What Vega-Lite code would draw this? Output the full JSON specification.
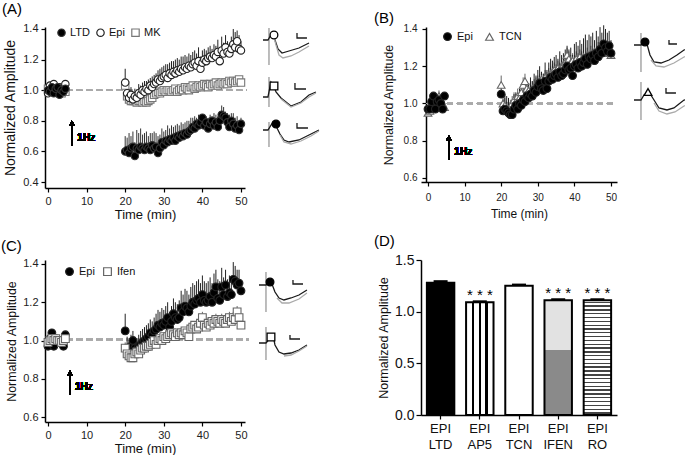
{
"$schema":"https://vega.github.io/schema/vega-lite/v6.json",
"background":"white",
"padding":{"left":1,"top":1,"right":0,"bottom":0},
"config":{
 "view":{"stroke":null},
 "font":"Liberation Sans",
 "axis":{"grid":false,"domainColor":"#000","domainWidth":1.5,"tickColor":"#000","tickWidth":1.2,"tickSize":4,"labelColor":"#222","titleColor":"#111","titleFontWeight":"normal","labelFont":"Liberation Sans","titleFont":"Liberation Sans"},
 "legend":{"labelFont":"Liberation Sans","labelColor":"#111"},
 "title":{"font":"Liberation Sans","fontWeight":"normal","fontSize":15,"anchor":"start","frame":"group","color":"#000"}
},
"datasets":{
"dA":[
{"s":"MK","t":0,"y":1.01,"h":1.02},{"s":"MK","t":0.5,"y":0.99,"h":1.0},{"s":"MK","t":1,"y":1.0,"h":1.01},{"s":"MK","t":1.5,"y":1.01,"h":1.02},{"s":"MK","t":2,"y":0.99,"h":1.0},{"s":"MK","t":2.5,"y":1.0,"h":1.01},{"s":"MK","t":3,"y":1.01,"h":1.02},{"s":"MK","t":3.5,"y":0.98,"h":0.99},{"s":"MK","t":4,"y":1.0,"h":1.01},{"s":"MK","t":4.5,"y":0.99,"h":1.0},
{"s":"MK","t":20,"y":1.03,"h":1.06},{"s":"MK","t":20.5,"y":0.96,"h":0.99},{"s":"MK","t":21,"y":0.94,"h":0.96},{"s":"MK","t":21.5,"y":0.93,"h":0.95},{"s":"MK","t":22,"y":0.93,"h":0.95},{"s":"MK","t":22.5,"y":0.93,"h":0.94},{"s":"MK","t":23,"y":0.92,"h":0.94},{"s":"MK","t":23.5,"y":0.93,"h":0.95},{"s":"MK","t":24,"y":0.93,"h":0.94},{"s":"MK","t":24.5,"y":0.92,"h":0.94},{"s":"MK","t":25,"y":0.93,"h":0.95},{"s":"MK","t":25.5,"y":0.92,"h":0.94},{"s":"MK","t":26,"y":0.93,"h":0.95},{"s":"MK","t":26.5,"y":0.94,"h":0.96},{"s":"MK","t":27,"y":0.95,"h":0.97},{"s":"MK","t":27.5,"y":0.97,"h":0.99},{"s":"MK","t":28,"y":0.98,"h":1.0},{"s":"MK","t":28.5,"y":0.99,"h":1.01},{"s":"MK","t":29,"y":0.98,"h":1.0},{"s":"MK","t":29.5,"y":0.99,"h":1.01},{"s":"MK","t":30,"y":1.0,"h":1.02},{"s":"MK","t":30.5,"y":0.99,"h":1.01},{"s":"MK","t":31,"y":1.0,"h":1.02},{"s":"MK","t":31.5,"y":1.0,"h":1.02},{"s":"MK","t":32,"y":0.99,"h":1.01},{"s":"MK","t":32.5,"y":1.0,"h":1.02},{"s":"MK","t":33,"y":1.01,"h":1.03},{"s":"MK","t":33.5,"y":0.99,"h":1.01},{"s":"MK","t":34,"y":1.0,"h":1.02},{"s":"MK","t":34.5,"y":1.01,"h":1.03},{"s":"MK","t":35,"y":1.0,"h":1.02},{"s":"MK","t":35.5,"y":1.02,"h":1.04},{"s":"MK","t":36,"y":1.01,"h":1.03},{"s":"MK","t":36.5,"y":1.0,"h":1.02},{"s":"MK","t":37,"y":1.02,"h":1.04},{"s":"MK","t":37.5,"y":1.03,"h":1.05},{"s":"MK","t":38,"y":1.01,"h":1.03},{"s":"MK","t":38.5,"y":1.02,"h":1.04},{"s":"MK","t":39,"y":1.03,"h":1.05},{"s":"MK","t":39.5,"y":1.02,"h":1.04},{"s":"MK","t":40,"y":1.03,"h":1.05},{"s":"MK","t":40.5,"y":1.04,"h":1.06},{"s":"MK","t":41,"y":1.03,"h":1.05},{"s":"MK","t":41.5,"y":1.02,"h":1.04},{"s":"MK","t":42,"y":1.04,"h":1.06},{"s":"MK","t":42.5,"y":1.03,"h":1.05},{"s":"MK","t":43,"y":1.04,"h":1.06},{"s":"MK","t":43.5,"y":1.05,"h":1.07},{"s":"MK","t":44,"y":1.03,"h":1.05},{"s":"MK","t":44.5,"y":1.04,"h":1.06},{"s":"MK","t":45,"y":1.05,"h":1.07},{"s":"MK","t":45.5,"y":1.04,"h":1.06},{"s":"MK","t":46,"y":1.05,"h":1.07},{"s":"MK","t":46.5,"y":1.04,"h":1.06},{"s":"MK","t":47,"y":1.06,"h":1.08},{"s":"MK","t":47.5,"y":1.05,"h":1.07},{"s":"MK","t":48,"y":1.06,"h":1.08},{"s":"MK","t":48.5,"y":1.05,"h":1.07},{"s":"MK","t":49,"y":1.06,"h":1.08},{"s":"MK","t":49.5,"y":1.07,"h":1.09},{"s":"MK","t":50,"y":1.05,"h":1.07},
{"s":"Epi","t":0,"y":0.98,"h":1.0},{"s":"Epi","t":0.5,"y":1.03,"h":1.05},{"s":"Epi","t":1,"y":0.99,"h":1.01},{"s":"Epi","t":1.5,"y":1.04,"h":1.05},{"s":"Epi","t":2,"y":1.0,"h":1.02},{"s":"Epi","t":2.5,"y":0.98,"h":1.0},{"s":"Epi","t":3,"y":1.02,"h":1.03},{"s":"Epi","t":3.5,"y":0.99,"h":1.01},{"s":"Epi","t":4,"y":1.01,"h":1.02},{"s":"Epi","t":4.5,"y":1.04,"h":1.05},
{"s":"Epi","t":20,"y":1.05,"h":1.14},{"s":"Epi","t":20.5,"y":0.98,"h":1.03},{"s":"Epi","t":21,"y":0.95,"h":1.01},{"s":"Epi","t":21.5,"y":0.97,"h":1.02},{"s":"Epi","t":22,"y":0.94,"h":0.98},{"s":"Epi","t":22.5,"y":0.96,"h":1.01},{"s":"Epi","t":23,"y":0.95,"h":1.0},{"s":"Epi","t":23.5,"y":0.98,"h":1.04},{"s":"Epi","t":24,"y":0.97,"h":1.03},{"s":"Epi","t":24.5,"y":1.0,"h":1.05},{"s":"Epi","t":25,"y":0.99,"h":1.06},{"s":"Epi","t":25.5,"y":1.01,"h":1.06},{"s":"Epi","t":26,"y":1.0,"h":1.07},{"s":"Epi","t":26.5,"y":1.03,"h":1.08},{"s":"Epi","t":27,"y":1.02,"h":1.09},{"s":"Epi","t":27.5,"y":1.04,"h":1.1},{"s":"Epi","t":28,"y":1.05,"h":1.11},{"s":"Epi","t":28.5,"y":1.07,"h":1.13},{"s":"Epi","t":29,"y":1.06,"h":1.14},{"s":"Epi","t":29.5,"y":1.08,"h":1.15},{"s":"Epi","t":30,"y":1.09,"h":1.16},{"s":"Epi","t":30.5,"y":1.1,"h":1.17},{"s":"Epi","t":31,"y":1.08,"h":1.17},{"s":"Epi","t":31.5,"y":1.11,"h":1.18},{"s":"Epi","t":32,"y":1.1,"h":1.19},{"s":"Epi","t":32.5,"y":1.12,"h":1.19},{"s":"Epi","t":33,"y":1.11,"h":1.2},{"s":"Epi","t":33.5,"y":1.13,"h":1.21},{"s":"Epi","t":34,"y":1.12,"h":1.2},{"s":"Epi","t":34.5,"y":1.14,"h":1.22},{"s":"Epi","t":35,"y":1.13,"h":1.22},{"s":"Epi","t":35.5,"y":1.15,"h":1.23},{"s":"Epi","t":36,"y":1.14,"h":1.22},{"s":"Epi","t":36.5,"y":1.16,"h":1.24},{"s":"Epi","t":37,"y":1.15,"h":1.23},{"s":"Epi","t":37.5,"y":1.17,"h":1.25},{"s":"Epi","t":38,"y":1.18,"h":1.26},{"s":"Epi","t":38.5,"y":1.16,"h":1.24},{"s":"Epi","t":39,"y":1.19,"h":1.28},{"s":"Epi","t":39.5,"y":1.14,"h":1.22},{"s":"Epi","t":40,"y":1.18,"h":1.26},{"s":"Epi","t":40.5,"y":1.2,"h":1.27},{"s":"Epi","t":41,"y":1.19,"h":1.26},{"s":"Epi","t":41.5,"y":1.21,"h":1.28},{"s":"Epi","t":42,"y":1.22,"h":1.29},{"s":"Epi","t":42.5,"y":1.21,"h":1.27},{"s":"Epi","t":43,"y":1.23,"h":1.3},{"s":"Epi","t":43.5,"y":1.22,"h":1.29},{"s":"Epi","t":44,"y":1.25,"h":1.33},{"s":"Epi","t":44.5,"y":1.19,"h":1.26},{"s":"Epi","t":45,"y":1.26,"h":1.35},{"s":"Epi","t":45.5,"y":1.24,"h":1.31},{"s":"Epi","t":46,"y":1.28,"h":1.36},{"s":"Epi","t":46.5,"y":1.25,"h":1.32},{"s":"Epi","t":47,"y":1.24,"h":1.31},{"s":"Epi","t":47.5,"y":1.27,"h":1.35},{"s":"Epi","t":48,"y":1.3,"h":1.4},{"s":"Epi","t":48.5,"y":1.28,"h":1.38},{"s":"Epi","t":49,"y":1.32,"h":1.39},{"s":"Epi","t":49.5,"y":1.27,"h":1.36},{"s":"Epi","t":50,"y":1.26,"h":1.32},
{"s":"LTD","t":0,"y":1.0,"h":1.01},{"s":"LTD","t":0.5,"y":0.99,"h":1.01},{"s":"LTD","t":1,"y":1.02,"h":1.03},{"s":"LTD","t":1.5,"y":0.98,"h":1.0},{"s":"LTD","t":2,"y":1.01,"h":1.03},{"s":"LTD","t":2.5,"y":1.02,"h":1.03},{"s":"LTD","t":3,"y":0.97,"h":0.99},{"s":"LTD","t":3.5,"y":1.0,"h":1.02},{"s":"LTD","t":4,"y":0.99,"h":1.01},{"s":"LTD","t":4.5,"y":1.01,"h":1.02},
{"s":"LTD","t":20,"y":0.6,"h":0.7},{"s":"LTD","t":20.5,"y":0.61,"h":0.69},{"s":"LTD","t":21,"y":0.59,"h":0.72},{"s":"LTD","t":21.5,"y":0.62,"h":0.7},{"s":"LTD","t":22,"y":0.63,"h":0.73},{"s":"LTD","t":22.5,"y":0.57,"h":0.66},{"s":"LTD","t":23,"y":0.62,"h":0.74},{"s":"LTD","t":23.5,"y":0.61,"h":0.72},{"s":"LTD","t":24,"y":0.63,"h":0.75},{"s":"LTD","t":24.5,"y":0.62,"h":0.71},{"s":"LTD","t":25,"y":0.61,"h":0.72},{"s":"LTD","t":25.5,"y":0.63,"h":0.73},{"s":"LTD","t":26,"y":0.62,"h":0.7},{"s":"LTD","t":26.5,"y":0.61,"h":0.72},{"s":"LTD","t":27,"y":0.64,"h":0.72},{"s":"LTD","t":27.5,"y":0.62,"h":0.73},{"s":"LTD","t":28,"y":0.63,"h":0.72},{"s":"LTD","t":28.5,"y":0.59,"h":0.7},{"s":"LTD","t":29,"y":0.62,"h":0.71},{"s":"LTD","t":29.5,"y":0.66,"h":0.75},{"s":"LTD","t":30,"y":0.64,"h":0.73},{"s":"LTD","t":30.5,"y":0.67,"h":0.74},{"s":"LTD","t":31,"y":0.66,"h":0.77},{"s":"LTD","t":31.5,"y":0.68,"h":0.75},{"s":"LTD","t":32,"y":0.67,"h":0.77},{"s":"LTD","t":32.5,"y":0.69,"h":0.76},{"s":"LTD","t":33,"y":0.67,"h":0.77},{"s":"LTD","t":33.5,"y":0.7,"h":0.78},{"s":"LTD","t":34,"y":0.69,"h":0.77},{"s":"LTD","t":34.5,"y":0.71,"h":0.79},{"s":"LTD","t":35,"y":0.7,"h":0.78},{"s":"LTD","t":35.5,"y":0.72,"h":0.79},{"s":"LTD","t":36,"y":0.71,"h":0.8},{"s":"LTD","t":36.5,"y":0.73,"h":0.8},{"s":"LTD","t":37,"y":0.74,"h":0.82},{"s":"LTD","t":37.5,"y":0.76,"h":0.82},{"s":"LTD","t":38,"y":0.75,"h":0.83},{"s":"LTD","t":38.5,"y":0.78,"h":0.82},{"s":"LTD","t":39,"y":0.77,"h":0.84},{"s":"LTD","t":39.5,"y":0.79,"h":0.81},{"s":"LTD","t":40,"y":0.82,"h":0.84},{"s":"LTD","t":40.5,"y":0.77,"h":0.83},{"s":"LTD","t":41,"y":0.79,"h":0.83},{"s":"LTD","t":41.5,"y":0.75,"h":0.82},{"s":"LTD","t":42,"y":0.78,"h":0.84},{"s":"LTD","t":42.5,"y":0.8,"h":0.83},{"s":"LTD","t":43,"y":0.77,"h":0.85},{"s":"LTD","t":43.5,"y":0.79,"h":0.84},{"s":"LTD","t":44,"y":0.76,"h":0.83},{"s":"LTD","t":44.5,"y":0.8,"h":0.86},{"s":"LTD","t":45,"y":0.84,"h":0.9},{"s":"LTD","t":45.5,"y":0.83,"h":0.89},{"s":"LTD","t":46,"y":0.82,"h":0.86},{"s":"LTD","t":46.5,"y":0.79,"h":0.85},{"s":"LTD","t":47,"y":0.76,"h":0.84},{"s":"LTD","t":47.5,"y":0.8,"h":0.85},{"s":"LTD","t":48,"y":0.78,"h":0.85},{"s":"LTD","t":48.5,"y":0.75,"h":0.82},{"s":"LTD","t":49,"y":0.77,"h":0.83},{"s":"LTD","t":49.5,"y":0.74,"h":0.8},{"s":"LTD","t":50,"y":0.78,"h":0.82}
],
"dB":[
{"s":"TCN","t":0,"y":0.95,"h":0.96},{"s":"TCN","t":0.5,"y":0.96,"h":0.97},{"s":"TCN","t":1,"y":0.99,"h":1.01},{"s":"TCN","t":1.5,"y":1.0,"h":1.02},{"s":"TCN","t":2,"y":1.01,"h":1.03},{"s":"TCN","t":2.5,"y":1.03,"h":1.05},{"s":"TCN","t":3,"y":1.04,"h":1.07},{"s":"TCN","t":3.5,"y":1.02,"h":1.04},{"s":"TCN","t":4,"y":1.0,"h":1.02},{"s":"TCN","t":4.5,"y":0.98,"h":1.0},
{"s":"TCN","t":20,"y":1.1,"h":1.15},{"s":"TCN","t":20.5,"y":1.0,"h":1.04},{"s":"TCN","t":21,"y":0.99,"h":1.03},{"s":"TCN","t":21.5,"y":0.97,"h":1.01},{"s":"TCN","t":22,"y":0.96,"h":1.0},{"s":"TCN","t":22.5,"y":0.98,"h":1.02},{"s":"TCN","t":23,"y":1.0,"h":1.04},{"s":"TCN","t":23.5,"y":1.02,"h":1.06},{"s":"TCN","t":24,"y":1.01,"h":1.05},{"s":"TCN","t":24.5,"y":1.04,"h":1.08},{"s":"TCN","t":25,"y":1.03,"h":1.07},{"s":"TCN","t":25.5,"y":1.06,"h":1.1},{"s":"TCN","t":26,"y":1.1,"h":1.14},{"s":"TCN","t":26.5,"y":1.12,"h":1.16},{"s":"TCN","t":27,"y":1.08,"h":1.12},{"s":"TCN","t":27.5,"y":1.07,"h":1.11},{"s":"TCN","t":28,"y":1.06,"h":1.1},{"s":"TCN","t":28.5,"y":1.08,"h":1.12},{"s":"TCN","t":29,"y":1.09,"h":1.13},{"s":"TCN","t":29.5,"y":1.1,"h":1.14},{"s":"TCN","t":30,"y":1.11,"h":1.15},{"s":"TCN","t":30.5,"y":1.12,"h":1.16},{"s":"TCN","t":31,"y":1.13,"h":1.17},{"s":"TCN","t":31.5,"y":1.12,"h":1.16},{"s":"TCN","t":32,"y":1.14,"h":1.18},{"s":"TCN","t":32.5,"y":1.13,"h":1.17},{"s":"TCN","t":33,"y":1.15,"h":1.19},{"s":"TCN","t":33.5,"y":1.16,"h":1.2},{"s":"TCN","t":34,"y":1.17,"h":1.21},{"s":"TCN","t":34.5,"y":1.18,"h":1.22},{"s":"TCN","t":35,"y":1.17,"h":1.21},{"s":"TCN","t":35.5,"y":1.19,"h":1.23},{"s":"TCN","t":36,"y":1.18,"h":1.22},{"s":"TCN","t":36.5,"y":1.2,"h":1.24},{"s":"TCN","t":37,"y":1.21,"h":1.25},{"s":"TCN","t":37.5,"y":1.22,"h":1.26},{"s":"TCN","t":38,"y":1.26,"h":1.3},{"s":"TCN","t":38.5,"y":1.24,"h":1.28},{"s":"TCN","t":39,"y":1.22,"h":1.26},{"s":"TCN","t":39.5,"y":1.23,"h":1.27},{"s":"TCN","t":40,"y":1.22,"h":1.26},{"s":"TCN","t":40.5,"y":1.24,"h":1.28},{"s":"TCN","t":41,"y":1.23,"h":1.27},{"s":"TCN","t":41.5,"y":1.25,"h":1.29},{"s":"TCN","t":42,"y":1.24,"h":1.28},{"s":"TCN","t":42.5,"y":1.25,"h":1.29},{"s":"TCN","t":43,"y":1.23,"h":1.27},{"s":"TCN","t":43.5,"y":1.26,"h":1.3},{"s":"TCN","t":44,"y":1.24,"h":1.28},{"s":"TCN","t":44.5,"y":1.27,"h":1.31},{"s":"TCN","t":45,"y":1.25,"h":1.29},{"s":"TCN","t":45.5,"y":1.28,"h":1.32},{"s":"TCN","t":46,"y":1.26,"h":1.3},{"s":"TCN","t":46.5,"y":1.29,"h":1.33},{"s":"TCN","t":47,"y":1.27,"h":1.31},{"s":"TCN","t":47.5,"y":1.3,"h":1.34},{"s":"TCN","t":48,"y":1.28,"h":1.32},{"s":"TCN","t":48.5,"y":1.27,"h":1.31},{"s":"TCN","t":49,"y":1.29,"h":1.33},{"s":"TCN","t":49.5,"y":1.28,"h":1.32},{"s":"TCN","t":50,"y":1.26,"h":1.3},
{"s":"Epi","t":0,"y":0.97,"h":0.98},{"s":"Epi","t":0.5,"y":0.97,"h":0.99},{"s":"Epi","t":1,"y":1.01,"h":1.03},{"s":"Epi","t":1.5,"y":1.04,"h":1.06},{"s":"Epi","t":2,"y":0.97,"h":0.99},{"s":"Epi","t":2.5,"y":1.01,"h":1.03},{"s":"Epi","t":3,"y":1.02,"h":1.05},{"s":"Epi","t":3.5,"y":1.0,"h":1.03},{"s":"Epi","t":4,"y":0.97,"h":0.99},{"s":"Epi","t":4.5,"y":1.04,"h":1.06},
{"s":"Epi","t":20,"y":1.05,"h":1.1},{"s":"Epi","t":20.5,"y":0.96,"h":1.02},{"s":"Epi","t":21,"y":0.97,"h":1.05},{"s":"Epi","t":21.5,"y":0.96,"h":1.04},{"s":"Epi","t":22,"y":0.95,"h":1.03},{"s":"Epi","t":22.5,"y":0.94,"h":1.0},{"s":"Epi","t":23,"y":0.94,"h":1.01},{"s":"Epi","t":23.5,"y":0.97,"h":1.05},{"s":"Epi","t":24,"y":0.99,"h":1.06},{"s":"Epi","t":24.5,"y":0.97,"h":1.05},{"s":"Epi","t":25,"y":1.0,"h":1.08},{"s":"Epi","t":25.5,"y":0.99,"h":1.07},{"s":"Epi","t":26,"y":1.02,"h":1.1},{"s":"Epi","t":26.5,"y":1.01,"h":1.09},{"s":"Epi","t":27,"y":1.04,"h":1.12},{"s":"Epi","t":27.5,"y":1.03,"h":1.11},{"s":"Epi","t":28,"y":1.05,"h":1.14},{"s":"Epi","t":28.5,"y":1.04,"h":1.12},{"s":"Epi","t":29,"y":1.07,"h":1.16},{"s":"Epi","t":29.5,"y":1.06,"h":1.15},{"s":"Epi","t":30,"y":1.09,"h":1.18},{"s":"Epi","t":30.5,"y":1.11,"h":1.2},{"s":"Epi","t":31,"y":1.08,"h":1.17},{"s":"Epi","t":31.5,"y":1.07,"h":1.16},{"s":"Epi","t":32,"y":1.12,"h":1.22},{"s":"Epi","t":32.5,"y":1.08,"h":1.18},{"s":"Epi","t":33,"y":1.12,"h":1.22},{"s":"Epi","t":33.5,"y":1.14,"h":1.24},{"s":"Epi","t":34,"y":1.13,"h":1.23},{"s":"Epi","t":34.5,"y":1.15,"h":1.25},{"s":"Epi","t":35,"y":1.16,"h":1.26},{"s":"Epi","t":35.5,"y":1.14,"h":1.24},{"s":"Epi","t":36,"y":1.17,"h":1.28},{"s":"Epi","t":36.5,"y":1.15,"h":1.26},{"s":"Epi","t":37,"y":1.16,"h":1.27},{"s":"Epi","t":37.5,"y":1.18,"h":1.29},{"s":"Epi","t":38,"y":1.2,"h":1.31},{"s":"Epi","t":38.5,"y":1.18,"h":1.29},{"s":"Epi","t":39,"y":1.19,"h":1.3},{"s":"Epi","t":39.5,"y":1.15,"h":1.26},{"s":"Epi","t":40,"y":1.2,"h":1.32},{"s":"Epi","t":40.5,"y":1.21,"h":1.33},{"s":"Epi","t":41,"y":1.19,"h":1.31},{"s":"Epi","t":41.5,"y":1.22,"h":1.34},{"s":"Epi","t":42,"y":1.2,"h":1.32},{"s":"Epi","t":42.5,"y":1.22,"h":1.35},{"s":"Epi","t":43,"y":1.24,"h":1.37},{"s":"Epi","t":43.5,"y":1.21,"h":1.34},{"s":"Epi","t":44,"y":1.25,"h":1.37},{"s":"Epi","t":44.5,"y":1.24,"h":1.36},{"s":"Epi","t":45,"y":1.26,"h":1.38},{"s":"Epi","t":45.5,"y":1.23,"h":1.34},{"s":"Epi","t":46,"y":1.27,"h":1.39},{"s":"Epi","t":46.5,"y":1.25,"h":1.36},{"s":"Epi","t":47,"y":1.29,"h":1.41},{"s":"Epi","t":47.5,"y":1.27,"h":1.38},{"s":"Epi","t":48,"y":1.32,"h":1.42},{"s":"Epi","t":48.5,"y":1.3,"h":1.4},{"s":"Epi","t":49,"y":1.28,"h":1.38},{"s":"Epi","t":49.5,"y":1.31,"h":1.39},{"s":"Epi","t":50,"y":1.27,"h":1.34}
],
"dC":[
{"s":"Epi","t":0,"y":0.97,"h":0.98},{"s":"Epi","t":0.5,"y":1.01,"h":1.02},{"s":"Epi","t":1,"y":1.04,"h":1.05},{"s":"Epi","t":1.5,"y":0.97,"h":0.99},{"s":"Epi","t":2,"y":1.01,"h":1.02},{"s":"Epi","t":2.5,"y":1.0,"h":1.01},{"s":"Epi","t":3,"y":0.99,"h":1.01},{"s":"Epi","t":3.5,"y":1.0,"h":1.01},{"s":"Epi","t":4,"y":0.97,"h":0.98},{"s":"Epi","t":4.5,"y":1.03,"h":1.04},
{"s":"Epi","t":20,"y":1.05,"h":1.14},{"s":"Epi","t":20.5,"y":0.96,"h":1.02},{"s":"Epi","t":21,"y":0.94,"h":1.0},{"s":"Epi","t":21.5,"y":0.97,"h":1.03},{"s":"Epi","t":22,"y":1.0,"h":1.05},{"s":"Epi","t":22.5,"y":0.96,"h":1.02},{"s":"Epi","t":23,"y":0.95,"h":1.01},{"s":"Epi","t":23.5,"y":0.97,"h":1.03},{"s":"Epi","t":24,"y":0.98,"h":1.05},{"s":"Epi","t":24.5,"y":0.99,"h":1.06},{"s":"Epi","t":25,"y":1.0,"h":1.07},{"s":"Epi","t":25.5,"y":1.01,"h":1.08},{"s":"Epi","t":26,"y":1.02,"h":1.09},{"s":"Epi","t":26.5,"y":1.04,"h":1.11},{"s":"Epi","t":27,"y":1.03,"h":1.1},{"s":"Epi","t":27.5,"y":1.05,"h":1.12},{"s":"Epi","t":28,"y":1.06,"h":1.14},{"s":"Epi","t":28.5,"y":1.08,"h":1.16},{"s":"Epi","t":29,"y":1.07,"h":1.15},{"s":"Epi","t":29.5,"y":1.09,"h":1.17},{"s":"Epi","t":30,"y":1.08,"h":1.16},{"s":"Epi","t":30.5,"y":1.1,"h":1.18},{"s":"Epi","t":31,"y":1.12,"h":1.2},{"s":"Epi","t":31.5,"y":1.07,"h":1.15},{"s":"Epi","t":32,"y":1.1,"h":1.18},{"s":"Epi","t":32.5,"y":1.14,"h":1.22},{"s":"Epi","t":33,"y":1.12,"h":1.2},{"s":"Epi","t":33.5,"y":1.11,"h":1.19},{"s":"Epi","t":34,"y":1.12,"h":1.21},{"s":"Epi","t":34.5,"y":1.17,"h":1.26},{"s":"Epi","t":35,"y":1.15,"h":1.24},{"s":"Epi","t":35.5,"y":1.18,"h":1.27},{"s":"Epi","t":36,"y":1.17,"h":1.26},{"s":"Epi","t":36.5,"y":1.15,"h":1.24},{"s":"Epi","t":37,"y":1.18,"h":1.28},{"s":"Epi","t":37.5,"y":1.2,"h":1.3},{"s":"Epi","t":38,"y":1.19,"h":1.29},{"s":"Epi","t":38.5,"y":1.21,"h":1.31},{"s":"Epi","t":39,"y":1.22,"h":1.32},{"s":"Epi","t":39.5,"y":1.2,"h":1.3},{"s":"Epi","t":40,"y":1.24,"h":1.34},{"s":"Epi","t":40.5,"y":1.21,"h":1.31},{"s":"Epi","t":41,"y":1.2,"h":1.3},{"s":"Epi","t":41.5,"y":1.21,"h":1.31},{"s":"Epi","t":42,"y":1.23,"h":1.33},{"s":"Epi","t":42.5,"y":1.2,"h":1.3},{"s":"Epi","t":43,"y":1.25,"h":1.35},{"s":"Epi","t":43.5,"y":1.28,"h":1.37},{"s":"Epi","t":44,"y":1.22,"h":1.32},{"s":"Epi","t":44.5,"y":1.21,"h":1.31},{"s":"Epi","t":45,"y":1.28,"h":1.38},{"s":"Epi","t":45.5,"y":1.24,"h":1.33},{"s":"Epi","t":46,"y":1.29,"h":1.37},{"s":"Epi","t":46.5,"y":1.23,"h":1.32},{"s":"Epi","t":47,"y":1.25,"h":1.34},{"s":"Epi","t":47.5,"y":1.24,"h":1.33},{"s":"Epi","t":48,"y":1.32,"h":1.41},{"s":"Epi","t":48.5,"y":1.31,"h":1.39},{"s":"Epi","t":49,"y":1.29,"h":1.37},{"s":"Epi","t":49.5,"y":1.3,"h":1.37},{"s":"Epi","t":50,"y":1.26,"h":1.31},
{"s":"Ifen","t":0,"y":0.99,"h":1.0},{"s":"Ifen","t":0.5,"y":1.0,"h":1.01},{"s":"Ifen","t":1,"y":1.01,"h":1.02},{"s":"Ifen","t":1.5,"y":1.0,"h":1.01},{"s":"Ifen","t":2,"y":1.01,"h":1.02},{"s":"Ifen","t":2.5,"y":1.0,"h":1.01},{"s":"Ifen","t":3,"y":1.0,"h":1.01},{"s":"Ifen","t":3.5,"y":0.99,"h":1.0},{"s":"Ifen","t":4,"y":1.0,"h":1.01},{"s":"Ifen","t":4.5,"y":1.01,"h":1.02},
{"s":"Ifen","t":20,"y":0.96,"h":0.99},{"s":"Ifen","t":20.5,"y":0.93,"h":0.96},{"s":"Ifen","t":21,"y":0.92,"h":0.95},{"s":"Ifen","t":21.5,"y":0.91,"h":0.93},{"s":"Ifen","t":22,"y":0.91,"h":0.93},{"s":"Ifen","t":22.5,"y":0.93,"h":0.95},{"s":"Ifen","t":23,"y":0.94,"h":0.96},{"s":"Ifen","t":23.5,"y":0.93,"h":0.95},{"s":"Ifen","t":24,"y":0.95,"h":0.97},{"s":"Ifen","t":24.5,"y":0.96,"h":0.98},{"s":"Ifen","t":25,"y":0.96,"h":0.98},{"s":"Ifen","t":25.5,"y":0.97,"h":0.99},{"s":"Ifen","t":26,"y":0.97,"h":0.99},{"s":"Ifen","t":26.5,"y":0.98,"h":1.0},{"s":"Ifen","t":27,"y":0.99,"h":1.01},{"s":"Ifen","t":27.5,"y":1.0,"h":1.02},{"s":"Ifen","t":28,"y":0.98,"h":1.0},{"s":"Ifen","t":28.5,"y":1.0,"h":1.02},{"s":"Ifen","t":29,"y":1.01,"h":1.03},{"s":"Ifen","t":29.5,"y":1.0,"h":1.02},{"s":"Ifen","t":30,"y":1.02,"h":1.04},{"s":"Ifen","t":30.5,"y":1.01,"h":1.03},{"s":"Ifen","t":31,"y":1.02,"h":1.04},{"s":"Ifen","t":31.5,"y":1.03,"h":1.05},{"s":"Ifen","t":32,"y":1.04,"h":1.06},{"s":"Ifen","t":32.5,"y":1.03,"h":1.05},{"s":"Ifen","t":33,"y":1.02,"h":1.04},{"s":"Ifen","t":33.5,"y":1.04,"h":1.06},{"s":"Ifen","t":34,"y":1.03,"h":1.05},{"s":"Ifen","t":34.5,"y":1.04,"h":1.06},{"s":"Ifen","t":35,"y":1.03,"h":1.05},{"s":"Ifen","t":35.5,"y":1.05,"h":1.07},{"s":"Ifen","t":36,"y":1.04,"h":1.06},{"s":"Ifen","t":36.5,"y":1.02,"h":1.04},{"s":"Ifen","t":37,"y":1.06,"h":1.08},{"s":"Ifen","t":37.5,"y":1.07,"h":1.09},{"s":"Ifen","t":38,"y":1.08,"h":1.1},{"s":"Ifen","t":38.5,"y":1.06,"h":1.09},{"s":"Ifen","t":39,"y":1.07,"h":1.1},{"s":"Ifen","t":39.5,"y":1.09,"h":1.12},{"s":"Ifen","t":40,"y":1.12,"h":1.15},{"s":"Ifen","t":40.5,"y":1.08,"h":1.11},{"s":"Ifen","t":41,"y":1.07,"h":1.1},{"s":"Ifen","t":41.5,"y":1.09,"h":1.12},{"s":"Ifen","t":42,"y":1.08,"h":1.11},{"s":"Ifen","t":42.5,"y":1.1,"h":1.13},{"s":"Ifen","t":43,"y":1.09,"h":1.12},{"s":"Ifen","t":43.5,"y":1.11,"h":1.14},{"s":"Ifen","t":44,"y":1.1,"h":1.13},{"s":"Ifen","t":44.5,"y":1.09,"h":1.12},{"s":"Ifen","t":45,"y":1.11,"h":1.14},{"s":"Ifen","t":45.5,"y":1.1,"h":1.13},{"s":"Ifen","t":46,"y":1.09,"h":1.12},{"s":"Ifen","t":46.5,"y":1.11,"h":1.14},{"s":"Ifen","t":47,"y":1.12,"h":1.15},{"s":"Ifen","t":47.5,"y":1.1,"h":1.13},{"s":"Ifen","t":48,"y":1.12,"h":1.15},{"s":"Ifen","t":48.5,"y":1.11,"h":1.14},{"s":"Ifen","t":49,"y":1.15,"h":1.18},{"s":"Ifen","t":49.5,"y":1.12,"h":1.15},{"s":"Ifen","t":50,"y":1.08,"h":1.11}
],
"dD":[
{"c":"EPI LTD","v":1.28,"h":1.295,"sig":""},
{"c":"EPI AP5","v":1.09,"h":1.1,"sig":"* * *"},
{"c":"EPI TCN","v":1.25,"h":1.262,"sig":""},
{"c":"EPI IFEN","v":1.11,"h":1.12,"sig":"* * *"},
{"c":"EPI RO","v":1.11,"h":1.12,"sig":"* * *"}
],
"tA":[
{"tr":"Epi","k":"art","i":0,"t":0,"v":44},{"tr":"Epi","k":"art","i":1,"t":0,"v":7},
{"tr":"Epi","k":"blk","i":0,"t":-1,"v":32},{"tr":"Epi","k":"blk","i":1,"t":-0.17,"v":32},{"tr":"Epi","k":"blk","i":2,"t":0.33,"v":37},{"tr":"Epi","k":"blk","i":3,"t":0.67,"v":39},{"tr":"Epi","k":"blk","i":4,"t":1,"v":32},{"tr":"Epi","k":"blk","i":5,"t":1.5,"v":23},{"tr":"Epi","k":"blk","i":6,"t":2.17,"v":19},{"tr":"Epi","k":"blk","i":7,"t":3.33,"v":21},{"tr":"Epi","k":"blk","i":8,"t":5,"v":24},{"tr":"Epi","k":"blk","i":9,"t":6.67,"v":29},
{"tr":"Epi","k":"gry","i":0,"t":0.33,"v":37},{"tr":"Epi","k":"gry","i":1,"t":0.67,"v":38},{"tr":"Epi","k":"gry","i":2,"t":1.17,"v":27},{"tr":"Epi","k":"gry","i":3,"t":1.67,"v":17},{"tr":"Epi","k":"gry","i":4,"t":2.33,"v":14},{"tr":"Epi","k":"gry","i":5,"t":3.67,"v":16},{"tr":"Epi","k":"gry","i":6,"t":5,"v":20},{"tr":"Epi","k":"gry","i":7,"t":6.67,"v":26},
{"tr":"Epi","k":"bar","i":0,"t":4.67,"v":39},{"tr":"Epi","k":"bar","i":1,"t":4.67,"v":34},{"tr":"Epi","k":"bar","i":2,"t":6.33,"v":34},
{"tr":"Epi","k":"mk","i":0,"t":0.83,"v":37},
{"tr":"MK","k":"art","i":0,"t":0,"v":40},{"tr":"MK","k":"art","i":1,"t":0,"v":10},
{"tr":"MK","k":"blk","i":0,"t":-1,"v":20},{"tr":"MK","k":"blk","i":1,"t":-0.17,"v":20},{"tr":"MK","k":"blk","i":2,"t":0.33,"v":35},{"tr":"MK","k":"blk","i":3,"t":0.83,"v":31},{"tr":"MK","k":"blk","i":4,"t":1.17,"v":25},{"tr":"MK","k":"blk","i":5,"t":2,"v":19},{"tr":"MK","k":"blk","i":6,"t":3.67,"v":11},{"tr":"MK","k":"blk","i":7,"t":5.33,"v":15},{"tr":"MK","k":"blk","i":8,"t":6.67,"v":22},{"tr":"MK","k":"blk","i":9,"t":7.83,"v":25},
{"tr":"MK","k":"gry","i":0,"t":2,"v":18},{"tr":"MK","k":"gry","i":1,"t":3.67,"v":10},{"tr":"MK","k":"gry","i":2,"t":5.33,"v":14},{"tr":"MK","k":"gry","i":3,"t":6.67,"v":20},{"tr":"MK","k":"gry","i":4,"t":7.83,"v":24},
{"tr":"MK","k":"bar","i":0,"t":4.33,"v":34},{"tr":"MK","k":"bar","i":1,"t":4.33,"v":28},{"tr":"MK","k":"bar","i":2,"t":6.17,"v":28},
{"tr":"MK","k":"mk","i":0,"t":0.83,"v":31},
{"tr":"LTD","k":"art","i":0,"t":0,"v":40},{"tr":"LTD","k":"art","i":1,"t":0,"v":15},
{"tr":"LTD","k":"blk","i":0,"t":-1,"v":32},{"tr":"LTD","k":"blk","i":1,"t":-0.17,"v":32},{"tr":"LTD","k":"blk","i":2,"t":0.67,"v":40},{"tr":"LTD","k":"blk","i":3,"t":1.17,"v":36},{"tr":"LTD","k":"blk","i":4,"t":1.83,"v":28},{"tr":"LTD","k":"blk","i":5,"t":2.5,"v":22},{"tr":"LTD","k":"blk","i":6,"t":3.33,"v":20},{"tr":"LTD","k":"blk","i":7,"t":5,"v":22},{"tr":"LTD","k":"blk","i":8,"t":6.67,"v":27},{"tr":"LTD","k":"blk","i":9,"t":8.33,"v":32},
{"tr":"LTD","k":"gry","i":0,"t":1.83,"v":27},{"tr":"LTD","k":"gry","i":1,"t":2.5,"v":20},{"tr":"LTD","k":"gry","i":2,"t":3.67,"v":18},{"tr":"LTD","k":"gry","i":3,"t":5.33,"v":21},{"tr":"LTD","k":"gry","i":4,"t":7,"v":26},{"tr":"LTD","k":"gry","i":5,"t":8.33,"v":31},
{"tr":"LTD","k":"bar","i":0,"t":4.67,"v":39},{"tr":"LTD","k":"bar","i":1,"t":4.67,"v":34},{"tr":"LTD","k":"bar","i":2,"t":6.5,"v":34},
{"tr":"LTD","k":"mk","i":0,"t":1.17,"v":38}
],
"tB":[
{"tr":"Epi","k":"art","i":0,"t":0,"v":39},{"tr":"Epi","k":"art","i":1,"t":0,"v":0},
{"tr":"Epi","k":"blk","i":0,"t":-1.17,"v":27},{"tr":"Epi","k":"blk","i":1,"t":0,"v":27},{"tr":"Epi","k":"blk","i":2,"t":0.67,"v":30},{"tr":"Epi","k":"blk","i":3,"t":1,"v":28},{"tr":"Epi","k":"blk","i":4,"t":1.5,"v":17},{"tr":"Epi","k":"blk","i":5,"t":2.17,"v":10},{"tr":"Epi","k":"blk","i":6,"t":3.33,"v":9},{"tr":"Epi","k":"blk","i":7,"t":4.67,"v":12},{"tr":"Epi","k":"blk","i":8,"t":6,"v":17},{"tr":"Epi","k":"blk","i":9,"t":7.17,"v":22},{"tr":"Epi","k":"blk","i":10,"t":8,"v":24},
{"tr":"Epi","k":"gry","i":0,"t":1.67,"v":12},{"tr":"Epi","k":"gry","i":1,"t":2.5,"v":6},{"tr":"Epi","k":"gry","i":2,"t":3.83,"v":5},{"tr":"Epi","k":"gry","i":3,"t":5.5,"v":9},{"tr":"Epi","k":"gry","i":4,"t":7.17,"v":15},{"tr":"Epi","k":"gry","i":5,"t":8,"v":17},
{"tr":"Epi","k":"bar","i":0,"t":4.67,"v":32},{"tr":"Epi","k":"bar","i":1,"t":4.67,"v":28},{"tr":"Epi","k":"bar","i":2,"t":6,"v":28},
{"tr":"Epi","k":"mk","i":0,"t":0.67,"v":30},
{"tr":"TCN","k":"art","i":0,"t":0,"v":35},{"tr":"TCN","k":"art","i":1,"t":0,"v":-3},
{"tr":"TCN","k":"blk","i":0,"t":-1.17,"v":17},{"tr":"TCN","k":"blk","i":1,"t":0,"v":17},{"tr":"TCN","k":"blk","i":2,"t":0.5,"v":22},{"tr":"TCN","k":"blk","i":3,"t":1.33,"v":25},{"tr":"TCN","k":"blk","i":4,"t":2.17,"v":17},{"tr":"TCN","k":"blk","i":5,"t":3,"v":9},{"tr":"TCN","k":"blk","i":6,"t":4.33,"v":7},{"tr":"TCN","k":"blk","i":7,"t":5.5,"v":9},{"tr":"TCN","k":"blk","i":8,"t":6.33,"v":13},{"tr":"TCN","k":"blk","i":9,"t":7.17,"v":17},{"tr":"TCN","k":"blk","i":10,"t":8,"v":18},
{"tr":"TCN","k":"gry","i":0,"t":2.17,"v":14},{"tr":"TCN","k":"gry","i":1,"t":3,"v":6},{"tr":"TCN","k":"gry","i":2,"t":4.33,"v":3},{"tr":"TCN","k":"gry","i":3,"t":5.67,"v":5},{"tr":"TCN","k":"gry","i":4,"t":7.17,"v":11},{"tr":"TCN","k":"gry","i":5,"t":8,"v":13},
{"tr":"TCN","k":"bar","i":0,"t":4.17,"v":29},{"tr":"TCN","k":"bar","i":1,"t":4.17,"v":24},{"tr":"TCN","k":"bar","i":2,"t":5.83,"v":24},
{"tr":"TCN","k":"mk","i":0,"t":1.17,"v":25}
],
"tC":[
{"tr":"Epi","k":"art","i":0,"t":-0.5,"v":33},{"tr":"Epi","k":"art","i":1,"t":-0.5,"v":-7},
{"tr":"Epi","k":"blk","i":0,"t":-1.67,"v":20},{"tr":"Epi","k":"blk","i":1,"t":-0.5,"v":20},{"tr":"Epi","k":"blk","i":2,"t":0.17,"v":23},{"tr":"Epi","k":"blk","i":3,"t":0.5,"v":21},{"tr":"Epi","k":"blk","i":4,"t":1,"v":13},{"tr":"Epi","k":"blk","i":5,"t":1.67,"v":7},{"tr":"Epi","k":"blk","i":6,"t":2.5,"v":5},{"tr":"Epi","k":"blk","i":7,"t":3.67,"v":7},{"tr":"Epi","k":"blk","i":8,"t":5,"v":10},{"tr":"Epi","k":"blk","i":9,"t":6.33,"v":15},
{"tr":"Epi","k":"gry","i":0,"t":1.33,"v":7},{"tr":"Epi","k":"gry","i":1,"t":2.17,"v":2},{"tr":"Epi","k":"gry","i":2,"t":3.33,"v":2},{"tr":"Epi","k":"gry","i":3,"t":5,"v":6},{"tr":"Epi","k":"gry","i":4,"t":6.33,"v":12},
{"tr":"Epi","k":"bar","i":0,"t":4,"v":25},{"tr":"Epi","k":"bar","i":1,"t":4,"v":21},{"tr":"Epi","k":"bar","i":2,"t":5.67,"v":21},
{"tr":"Epi","k":"mk","i":0,"t":0.17,"v":23},
{"tr":"Ifen","k":"art","i":0,"t":-0.5,"v":28},{"tr":"Ifen","k":"art","i":1,"t":-0.5,"v":-5},
{"tr":"Ifen","k":"blk","i":0,"t":-1.67,"v":12},{"tr":"Ifen","k":"blk","i":1,"t":-0.5,"v":12},{"tr":"Ifen","k":"blk","i":2,"t":0.33,"v":18},{"tr":"Ifen","k":"blk","i":3,"t":0.67,"v":20},{"tr":"Ifen","k":"blk","i":4,"t":1,"v":10},{"tr":"Ifen","k":"blk","i":5,"t":1.67,"v":3},{"tr":"Ifen","k":"blk","i":6,"t":2.5,"v":1},{"tr":"Ifen","k":"blk","i":7,"t":3.67,"v":2},{"tr":"Ifen","k":"blk","i":8,"t":5,"v":5},{"tr":"Ifen","k":"blk","i":9,"t":6.33,"v":10},
{"tr":"Ifen","k":"gry","i":0,"t":2.5,"v":-1},{"tr":"Ifen","k":"gry","i":1,"t":3.67,"v":0},{"tr":"Ifen","k":"gry","i":2,"t":5,"v":4},{"tr":"Ifen","k":"gry","i":3,"t":6.33,"v":9},
{"tr":"Ifen","k":"bar","i":0,"t":3.5,"v":20},{"tr":"Ifen","k":"bar","i":1,"t":3.5,"v":16},{"tr":"Ifen","k":"bar","i":2,"t":5.17,"v":16},
{"tr":"Ifen","k":"mk","i":0,"t":0.33,"v":18}
]
},
"columns":4,
"spacing":{"row":72,"column":16},
"bounds":"flush",
"resolve":{"scale":{"x":"independent","y":"independent","shape":"independent","fill":"independent","stroke":"independent","color":"independent"},"legend":{"shape":"independent","fill":"independent","stroke":"independent","color":"independent"}},
"concat":[
{
 "width":200,"height":161,
 "title":{"text":"(A)","dx":-43,"offset":6},
 "data":{"name":"dA"},
 "encoding":{
  "x":{"field":"t","type":"quantitative","scale":{"domain":[-0.78,51.04],"nice":false,"zero":false},"axis":{"values":[0,10,20,30,40,50],"title":"Time (min)","titleFontSize":13,"labelFontSize":11,"labelPadding":3,"titlePadding":2}},
  "y":{"field":"y","type":"quantitative","scale":{"domain":[0.361,1.413],"nice":false,"zero":false},"axis":{"values":[0.4,0.6,0.8,1,1.2,1.4],"format":".1f","title":"Normalized Amplitude","titleFontSize":14,"labelFontSize":11,"titlePadding":5,"labelPadding":3}}
 },
 "layer":[
  {"mark":{"type":"rule","strokeDash":[6,4],"color":"#aaaaaa","strokeWidth":1.5},"encoding":{"x":{"datum":-0.5},"x2":{"datum":51.5},"y":{"datum":1}}},
  {"mark":{"type":"rule","strokeWidth":1},"encoding":{"y2":{"field":"h"},"stroke":{"field":"s","type":"nominal","scale":{"domain":["LTD","Epi","MK"],"range":["#333333","#222222","#777777"]}}}},
  {"mark":{"type":"point","filled":true,"size":55,"strokeWidth":1.1,"opacity":1},"encoding":{
    "shape":{"field":"s","type":"nominal","scale":{"domain":["LTD","Epi","MK"],"range":["circle","circle","square"]},"legend":{"orient":"none","legendX":11,"legendY":0,"direction":"horizontal","title":null,"labelFontSize":11,"symbolSize":55,"columnPadding":4,"labelOffset":3,"symbolStrokeWidth":1.2}},
    "fill":{"field":"s","type":"nominal","scale":{"domain":["LTD","Epi","MK"],"range":["black","white","white"]}},
    "stroke":{"field":"s","type":"nominal"}}},
  {"mark":{"type":"rule","strokeWidth":1.3,"color":"black"},"encoding":{"x":{"datum":6.2},"y":{"datum":0.64},"y2":{"datum":0.78}}},
  {"mark":{"type":"point","shape":"triangle-up","filled":true,"color":"black","size":30,"opacity":1},"encoding":{"x":{"datum":6.2},"y":{"datum":0.785}}},
  {"mark":{"type":"text","text":"1Hz","fontWeight":"bold","fontSize":10,"align":"left","baseline":"middle","fill":"#000000","color":"#000000"},"encoding":{"x":{"datum":7.6},"y":{"datum":0.69}}}
 ]
},
{
 "width":144,"height":161,
 "data":{"name":"tA"},
 "encoding":{
  "x":{"field":"t","type":"quantitative","scale":{"domain":[-1.33,22.67],"nice":false,"zero":false},"axis":null},
  "y":{"field":"tr","type":"nominal","scale":{"type":"band","domain":["Epi","MK","LTD"],"range":[0,135],"paddingInner":0,"paddingOuter":0},"axis":null},
  "yOffset":{"field":"v","type":"quantitative","scale":{"domain":[0,45],"range":[45,0],"zero":false,"nice":false}}
 },
 "layer":[
  {"transform":[{"filter":"datum.k!='mk'"}],"mark":{"type":"line","strokeWidth":1.3},"encoding":{
    "color":{"field":"k","type":"nominal","scale":{"domain":["blk","gry","art","bar"],"range":["#1a1a1a","#aaaaaa","#999999","#1a1a1a"]},"legend":null},
    "detail":{"field":"tr"},"order":{"field":"i","type":"quantitative"}}},
  {"transform":[{"filter":"datum.k=='mk'"}],"mark":{"type":"point","filled":true,"size":60,"strokeWidth":1.3,"opacity":1,"stroke":"black"},"encoding":{
    "shape":{"field":"tr","type":"nominal","scale":{"domain":["Epi","MK","LTD"],"range":["circle","square","circle"]},"legend":null},
    "fill":{"field":"tr","type":"nominal","scale":{"domain":["Epi","MK","LTD"],"range":["white","white","black"]},"legend":null}}}
 ]
},
{
 "width":196,"height":155,
 "title":{"text":"(B)","dx":-47,"offset":-2},
 "data":{"name":"dB"},
 "encoding":{
  "x":{"field":"t","type":"quantitative","scale":{"domain":[-1.91,51.64],"nice":false,"zero":false},"axis":{"values":[0,10,20,30,40,50],"title":"Time (min)","titleFontSize":12,"labelFontSize":10,"labelPadding":6,"titlePadding":6}},
  "y":{"field":"y","type":"quantitative","scale":{"domain":[0.5785,1.4107],"nice":false,"zero":false},"axis":{"values":[0.6,0.8,1,1.2,1.4],"format":".1f","title":"Normalized Amplitude","titleFontSize":12.4,"labelFontSize":10,"titlePadding":8,"labelPadding":5,"offset":-5}}
 },
 "layer":[
  {"mark":{"type":"rule","strokeDash":[6,4],"color":"#aaaaaa","strokeWidth":1.5},"encoding":{"x":{"datum":-0.3},"x2":{"datum":51.4},"y":{"datum":1}}},
  {"mark":{"type":"rule","strokeWidth":1},"encoding":{"y2":{"field":"h"},"stroke":{"field":"s","type":"nominal","scale":{"domain":["Epi","TCN"],"range":["#222222","#666666"]}}}},
  {"mark":{"type":"point","filled":true,"size":60,"strokeWidth":1.1,"opacity":1},"encoding":{
    "shape":{"field":"s","type":"nominal","scale":{"domain":["Epi","TCN"],"range":["circle","triangle-up"]},"legend":{"orient":"none","legendX":21,"legendY":4,"direction":"horizontal","title":null,"labelFontSize":11,"symbolSize":60,"columnPadding":10,"labelOffset":4,"symbolStrokeWidth":1.2}},
    "fill":{"field":"s","type":"nominal","scale":{"domain":["Epi","TCN"],"range":["black","white"]}},
    "stroke":{"field":"s","type":"nominal"}}},
  {"mark":{"type":"rule","strokeWidth":1.3,"color":"black"},"encoding":{"x":{"datum":5.7},"y":{"datum":0.7},"y2":{"datum":0.81}}},
  {"mark":{"type":"point","shape":"triangle-up","filled":true,"color":"black","size":30,"opacity":1},"encoding":{"x":{"datum":5.7},"y":{"datum":0.815}}},
  {"mark":{"type":"text","text":"1Hz","fontWeight":"bold","fontSize":10,"align":"left","baseline":"middle","fill":"#000000","color":"#000000"},"encoding":{"x":{"datum":7.2},"y":{"datum":0.74}}}
 ]
},
{
 "width":60,"height":161,
 "data":{"name":"tB"},
 "encoding":{
  "x":{"field":"t","type":"quantitative","scale":{"domain":[-1.33,8.67],"nice":false,"zero":false},"axis":null},
  "y":{"field":"tr","type":"nominal","scale":{"type":"band","domain":["Epi","TCN"],"range":[0,90],"paddingInner":0,"paddingOuter":0},"axis":null},
  "yOffset":{"field":"v","type":"quantitative","scale":{"domain":[0,45],"range":[45,0],"zero":false,"nice":false}}
 },
 "layer":[
  {"transform":[{"filter":"datum.k!='mk'"}],"mark":{"type":"line","strokeWidth":1.3},"encoding":{
    "color":{"field":"k","type":"nominal","scale":{"domain":["blk","gry","art","bar"],"range":["#1a1a1a","#aaaaaa","#999999","#1a1a1a"]},"legend":null},
    "detail":{"field":"tr"},"order":{"field":"i","type":"quantitative"}}},
  {"transform":[{"filter":"datum.k=='mk'"}],"mark":{"type":"point","filled":true,"size":60,"strokeWidth":1.3,"opacity":1,"stroke":"black"},"encoding":{
    "shape":{"field":"tr","type":"nominal","scale":{"domain":["Epi","TCN"],"range":["circle","triangle-up"]},"legend":null},
    "fill":{"field":"tr","type":"nominal","scale":{"domain":["Epi","TCN"],"range":["black","white"]},"legend":null}}}
 ]
},
{
 "width":200,"height":162,
 "title":{"text":"(C)","dx":-44,"offset":4},
 "data":{"name":"dC"},
 "encoding":{
  "x":{"field":"t","type":"quantitative","scale":{"domain":[-0.78,51.04],"nice":false,"zero":false},"axis":{"values":[0,10,20,30,40,50],"title":"Time (min)","titleFontSize":13,"labelFontSize":11,"labelPadding":3,"titlePadding":2}},
  "y":{"field":"y","type":"quantitative","scale":{"domain":[0.5739,1.4209],"nice":false,"zero":false},"axis":{"values":[0.6,0.8,1,1.2,1.4],"format":".1f","title":"Normalized Amplitude","titleFontSize":12.4,"labelFontSize":11,"titlePadding":4,"labelPadding":3}}
 },
 "layer":[
  {"mark":{"type":"rule","strokeDash":[6,4],"color":"#aaaaaa","strokeWidth":1.5},"encoding":{"x":{"datum":-0.3},"x2":{"datum":52},"y":{"datum":1.005}}},
  {"mark":{"type":"rule","strokeWidth":1},"encoding":{"y2":{"field":"h"},"stroke":{"field":"s","type":"nominal","scale":{"domain":["Epi","Ifen"],"range":["#222222","#666666"]}}}},
  {"mark":{"type":"point","filled":true,"size":60,"strokeWidth":1.1,"opacity":1},"encoding":{
    "shape":{"field":"s","type":"nominal","scale":{"domain":["Epi","Ifen"],"range":["circle","square"]},"legend":{"orient":"none","legendX":19,"legendY":6,"direction":"horizontal","title":null,"labelFontSize":11,"symbolSize":60,"columnPadding":6,"labelOffset":4,"symbolStrokeWidth":1.2}},
    "fill":{"field":"s","type":"nominal","scale":{"domain":["Epi","Ifen"],"range":["black","white"]}},
    "stroke":{"field":"s","type":"nominal"}}},
  {"mark":{"type":"rule","strokeWidth":1.3,"color":"black"},"encoding":{"x":{"datum":5.7},"y":{"datum":0.715},"y2":{"datum":0.825}}},
  {"mark":{"type":"point","shape":"triangle-up","filled":true,"color":"black","size":30,"opacity":1},"encoding":{"x":{"datum":5.7},"y":{"datum":0.83}}},
  {"mark":{"type":"text","text":"1Hz","fontWeight":"bold","fontSize":10,"align":"left","baseline":"middle","fill":"#000000","color":"#000000"},"encoding":{"x":{"datum":7.0},"y":{"datum":0.757}}}
 ]
},
{
 "width":144,"height":162,
 "data":{"name":"tC"},
 "encoding":{
  "x":{"field":"t","type":"quantitative","scale":{"domain":[-1.33,22.67],"nice":false,"zero":false},"axis":null},
  "y":{"field":"tr","type":"nominal","scale":{"type":"band","domain":["Epi","Ifen"],"range":[0,100],"paddingInner":0,"paddingOuter":0},"axis":null},
  "yOffset":{"field":"v","type":"quantitative","scale":{"domain":[0,45],"range":[45,0],"zero":false,"nice":false}}
 },
 "layer":[
  {"transform":[{"filter":"datum.k!='mk'"}],"mark":{"type":"line","strokeWidth":1.3},"encoding":{
    "color":{"field":"k","type":"nominal","scale":{"domain":["blk","gry","art","bar"],"range":["#1a1a1a","#aaaaaa","#999999","#1a1a1a"]},"legend":null},
    "detail":{"field":"tr"},"order":{"field":"i","type":"quantitative"}}},
  {"transform":[{"filter":"datum.k=='mk'"}],"mark":{"type":"point","filled":true,"size":60,"strokeWidth":1.3,"opacity":1,"stroke":"black"},"encoding":{
    "shape":{"field":"tr","type":"nominal","scale":{"domain":["Epi","Ifen"],"range":["circle","square"]},"legend":null},
    "fill":{"field":"tr","type":"nominal","scale":{"domain":["Epi","Ifen"],"range":["black","white"]},"legend":null}}}
 ]
},
{
 "width":196,"height":155,
 "title":{"text":"(D)","dx":-47,"offset":4},
 "data":{"name":"dD"},
 "encoding":{
  "x":{"field":"c","type":"nominal","scale":{"domain":["EPI LTD","EPI AP5","EPI TCN","EPI IFEN","EPI RO"],"paddingInner":0.3,"paddingOuter":0.15},"axis":{"title":null,"labelExpr":"split(datum.label,' ')","labelAngle":0,"labelFontSize":13,"labelLineHeight":16,"labelPadding":3,"tickSize":4,"labelColor":"#111"}},
  "y":{"field":"v","type":"quantitative","scale":{"domain":[0,1.5],"nice":false},"axis":{"values":[0,0.5,1,1.5],"format":".1f","title":"Normalized Amplitude","titleFontSize":12.5,"labelFontSize":14,"titlePadding":4,"tickSize":5,"labelPadding":2,"labelColor":"#111"}}
 },
 "layer":[
  {"transform":[{"filter":"datum.c=='EPI LTD'"}],"mark":{"type":"bar","fill":"black","stroke":"black","strokeWidth":2}},
  {"transform":[{"filter":"datum.c=='EPI AP5'"}],"mark":{"type":"bar","stroke":"black","strokeWidth":2,"fill":{"gradient":"linear","x1":0,"x2":1,"y1":0,"y2":0,"stops":[{"offset":0,"color":"white"},{"offset":0.205,"color":"white"},{"offset":0.205,"color":"black"},{"offset":0.295,"color":"black"},{"offset":0.295,"color":"white"},{"offset":0.455,"color":"white"},{"offset":0.455,"color":"black"},{"offset":0.545,"color":"black"},{"offset":0.545,"color":"white"},{"offset":0.705,"color":"white"},{"offset":0.705,"color":"black"},{"offset":0.795,"color":"black"},{"offset":0.795,"color":"white"},{"offset":1,"color":"white"}]}}},
  {"transform":[{"filter":"datum.c=='EPI TCN'"}],"mark":{"type":"bar","fill":"white","stroke":"black","strokeWidth":2}},
  {"transform":[{"filter":"datum.c=='EPI IFEN'"}],"mark":{"type":"bar","stroke":"black","strokeWidth":2,"fill":{"gradient":"linear","x1":0,"x2":0,"y1":0,"y2":1,"stops":[{"offset":0,"color":"#e2e2e2"},{"offset":0.43,"color":"#e2e2e2"},{"offset":0.43,"color":"#8a8a8a"},{"offset":1,"color":"#8a8a8a"}]}}},
  {"transform":[{"filter":"datum.c=='EPI RO'"}],"mark":{"type":"bar","stroke":"black","strokeWidth":2,"fill":{"gradient":"linear","x1":0,"x2":0,"y1":0,"y2":1,"stops":[
{"offset":0,"color":"white"},
{"offset":0.011,"color":"white"},{"offset":0.011,"color":"#444"},{"offset":0.023,"color":"#444"},{"offset":0.023,"color":"white"},
{"offset":0.044,"color":"white"},{"offset":0.044,"color":"#444"},{"offset":0.056,"color":"#444"},{"offset":0.056,"color":"white"},
{"offset":0.077,"color":"white"},{"offset":0.077,"color":"#444"},{"offset":0.089,"color":"#444"},{"offset":0.089,"color":"white"},
{"offset":0.111,"color":"white"},{"offset":0.111,"color":"#444"},{"offset":0.123,"color":"#444"},{"offset":0.123,"color":"white"},
{"offset":0.144,"color":"white"},{"offset":0.144,"color":"#444"},{"offset":0.156,"color":"#444"},{"offset":0.156,"color":"white"},
{"offset":0.177,"color":"white"},{"offset":0.177,"color":"#444"},{"offset":0.189,"color":"#444"},{"offset":0.189,"color":"white"},
{"offset":0.211,"color":"white"},{"offset":0.211,"color":"#444"},{"offset":0.223,"color":"#444"},{"offset":0.223,"color":"white"},
{"offset":0.244,"color":"white"},{"offset":0.244,"color":"#444"},{"offset":0.256,"color":"#444"},{"offset":0.256,"color":"white"},
{"offset":0.277,"color":"white"},{"offset":0.277,"color":"#444"},{"offset":0.289,"color":"#444"},{"offset":0.289,"color":"white"},
{"offset":0.311,"color":"white"},{"offset":0.311,"color":"#444"},{"offset":0.323,"color":"#444"},{"offset":0.323,"color":"white"},
{"offset":0.344,"color":"white"},{"offset":0.344,"color":"#444"},{"offset":0.356,"color":"#444"},{"offset":0.356,"color":"white"},
{"offset":0.377,"color":"white"},{"offset":0.377,"color":"#444"},{"offset":0.389,"color":"#444"},{"offset":0.389,"color":"white"},
{"offset":0.411,"color":"white"},{"offset":0.411,"color":"#444"},{"offset":0.423,"color":"#444"},{"offset":0.423,"color":"white"},
{"offset":0.444,"color":"white"},{"offset":0.444,"color":"#444"},{"offset":0.456,"color":"#444"},{"offset":0.456,"color":"white"},
{"offset":0.477,"color":"white"},{"offset":0.477,"color":"#444"},{"offset":0.489,"color":"#444"},{"offset":0.489,"color":"white"},
{"offset":0.511,"color":"white"},{"offset":0.511,"color":"#444"},{"offset":0.523,"color":"#444"},{"offset":0.523,"color":"white"},
{"offset":0.544,"color":"white"},{"offset":0.544,"color":"#444"},{"offset":0.556,"color":"#444"},{"offset":0.556,"color":"white"},
{"offset":0.577,"color":"white"},{"offset":0.577,"color":"#444"},{"offset":0.589,"color":"#444"},{"offset":0.589,"color":"white"},
{"offset":0.611,"color":"white"},{"offset":0.611,"color":"#444"},{"offset":0.623,"color":"#444"},{"offset":0.623,"color":"white"},
{"offset":0.644,"color":"white"},{"offset":0.644,"color":"#444"},{"offset":0.656,"color":"#444"},{"offset":0.656,"color":"white"},
{"offset":0.677,"color":"white"},{"offset":0.677,"color":"#444"},{"offset":0.689,"color":"#444"},{"offset":0.689,"color":"white"},
{"offset":0.711,"color":"white"},{"offset":0.711,"color":"#444"},{"offset":0.723,"color":"#444"},{"offset":0.723,"color":"white"},
{"offset":0.744,"color":"white"},{"offset":0.744,"color":"#444"},{"offset":0.756,"color":"#444"},{"offset":0.756,"color":"white"},
{"offset":0.777,"color":"white"},{"offset":0.777,"color":"#444"},{"offset":0.789,"color":"#444"},{"offset":0.789,"color":"white"},
{"offset":0.811,"color":"white"},{"offset":0.811,"color":"#444"},{"offset":0.823,"color":"#444"},{"offset":0.823,"color":"white"},
{"offset":0.844,"color":"white"},{"offset":0.844,"color":"#444"},{"offset":0.856,"color":"#444"},{"offset":0.856,"color":"white"},
{"offset":0.877,"color":"white"},{"offset":0.877,"color":"#444"},{"offset":0.889,"color":"#444"},{"offset":0.889,"color":"white"},
{"offset":0.911,"color":"white"},{"offset":0.911,"color":"#444"},{"offset":0.923,"color":"#444"},{"offset":0.923,"color":"white"},
{"offset":0.944,"color":"white"},{"offset":0.944,"color":"#444"},{"offset":0.956,"color":"#444"},{"offset":0.956,"color":"white"},
{"offset":0.977,"color":"white"},{"offset":0.977,"color":"#444"},{"offset":0.989,"color":"#444"},{"offset":0.989,"color":"white"},
{"offset":1,"color":"white"}]}}},
  {"mark":{"type":"rule","strokeWidth":2,"color":"black"},"encoding":{"y2":{"field":"h"}}},
  {"mark":{"type":"tick","orient":"horizontal","thickness":2,"size":14,"color":"black","opacity":1},"encoding":{"y":{"field":"h","type":"quantitative"}}},
  {"transform":[{"filter":"datum.sig!=''"}],"mark":{"type":"text","fontSize":15,"dy":-1,"baseline":"alphabetic","color":"#000"},"encoding":{"y":{"field":"h","type":"quantitative"},"text":{"field":"sig"}}}
 ]
}
]
}
